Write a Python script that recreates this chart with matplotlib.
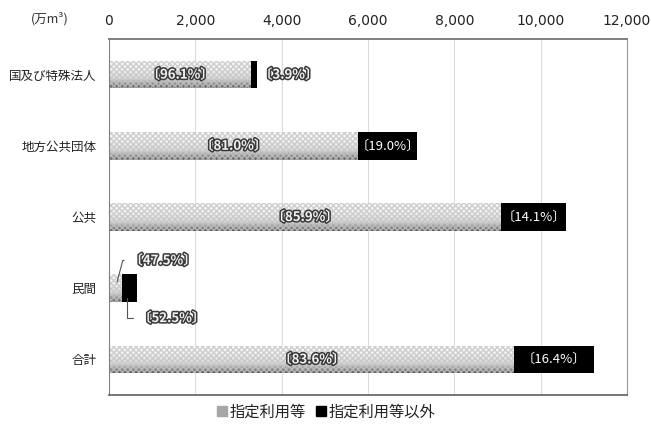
import numpy as np
import matplotlib
matplotlib.use("Agg")
import matplotlib.pyplot as plt
from matplotlib.lines import Line2D
import matplotlib.patheffects as pe

plt.rcParams['font.family'] = ['Noto Sans CJK JP', 'DejaVu Sans']

categories = ["国及び特殊法人", "地方公共団体", "公共", "民間", "合計"]
designated = [3296, 5780, 9090, 309, 9392]          # 指定利用等
other = [134, 1355, 1496, 341, 1843]                # 指定利用等以外
pct_designated = ["96.1%", "81.0%", "85.9%", "47.5%", "83.6%"]
pct_other = ["3.9%", "19.0%", "14.1%", "52.5%", "16.4%"]
xticks = [0, 2000, 4000, 6000, 8000, 10000, 12000]
legend_labels = ["指定利用等", "指定利用等以外"]
unit_label = "(万m³)"

fig = plt.figure(figsize=(6.51, 4.28), dpi=100)
ax = fig.add_axes([0.1674, 0.0771, 0.7957, 0.8318])

y = np.arange(len(categories))
h = 0.39

# gradient image for the hatched bars
grad = np.linspace(0, 1, 64).reshape(-1, 1)
gcmap = matplotlib.colors.LinearSegmentedColormap.from_list(
    "g", ["#fafafa", "#f2f2f2", "#d8d8d8", "#5e5e5e"])

gray_bars = ax.barh(y, designated, height=h, color="#e8e8e8", edgecolor="none", zorder=2)
for b in gray_bars:
    x0, y0, w, hh = b.get_x(), b.get_y(), b.get_width(), b.get_height()
    im = ax.imshow(grad, extent=(x0, x0 + w, y0 + hh, y0), aspect="auto", cmap=gcmap,
                   zorder=2.1, interpolation="bilinear")
    im.set_clip_path(b)
ax.barh(y, designated, height=h, facecolor="none", edgecolor="#c4c4c4", hatch="xxxxxx",
        linewidth=0, zorder=2.2, alpha=0.8)
black_bars = ax.barh(y, other, left=designated, height=h, color="#000000", edgecolor="none", zorder=3)

ax.set_xlim(0, 12000)
ax.set_ylim(len(categories) - 0.5, -0.5)
ax.set_xticks(xticks)
ax.set_xticklabels([f"{v:,}" for v in xticks], fontsize=10, color="#222222",
                   family=["DejaVu Sans"])
ax.xaxis.tick_top()
ax.tick_params(axis="x", length=0, pad=8)
ax.set_yticks(y)
ax.set_yticklabels(categories, fontsize=9, color="#222222")
ax.tick_params(axis="y", length=0, pad=9)
ax.grid(axis="x", color="#dcdcdc", linewidth=0.8, zorder=0)
ax.set_axisbelow(True)

ax.spines["right"].set_color("#9a9a9a")
ax.spines["top"].set_color("#808080")
ax.spines["top"].set_linewidth(1.4)
ax.spines["left"].set_color("#808080")
ax.spines["bottom"].set_color("#606060")
ax.spines["bottom"].set_linewidth(1.2)

outline = [pe.withStroke(linewidth=2.2, foreground="#3a3a3a")]
outline_txt = dict(color="#f0f0f0", fontsize=9.5, path_effects=outline, fontweight="bold")

for i in range(len(categories)):
    if i == 3:
        continue
    ax.text(designated[i] / 2, y[i], f"〔{pct_designated[i]}〕", ha="center", va="center",
            zorder=5, **outline_txt)
    if i == 0:
        ax.text(designated[i] + other[i] + 50, y[i], f"〔{pct_other[i]}〕", ha="left", va="center",
                zorder=5, **outline_txt)
    else:
        ax.text(designated[i] + other[i] / 2, y[i], f"〔{pct_other[i]}〕", ha="center", va="center",
                color="white", fontsize=9.5, zorder=5)

# 民間 labels with leader lines
i = 3
ax.annotate(f"〔{pct_designated[i]}〕", xy=(designated[i] * 0.55, y[i] - 0.05),
            xytext=(480, y[i] - 0.39), ha="left", va="center", zorder=5,
            arrowprops=dict(arrowstyle="-", color="#555555", lw=0.8, relpos=(0, 0.5),
                            connectionstyle="angle,angleA=180,angleB=75,rad=0"),
            **outline_txt)
ax.annotate(f"〔{pct_other[i]}〕", xy=(designated[i] + other[i] * 0.35, y[i] + 0.1),
            xytext=(680, y[i] + 0.42), ha="left", va="center", zorder=5,
            arrowprops=dict(arrowstyle="-", color="#555555", lw=0.8, relpos=(0, 0.5),
                            connectionstyle="angle,angleA=180,angleB=90,rad=0"),
            **outline_txt)

fig.text(0.077, 0.955, unit_label, ha="center", va="center", fontsize=9, color="#333333")

handles = [Line2D([], [], marker="s", linestyle="none", markersize=7, color="#a6a6a6"),
           Line2D([], [], marker="s", linestyle="none", markersize=7, color="#000000")]
fig.legend(handles, legend_labels, loc="center", bbox_to_anchor=(0.5, 0.038), ncol=2,
           frameon=False, fontsize=11, handletextpad=0.1, columnspacing=0.6,
           handlelength=0.8, labelcolor="#222222")

fig.savefig("out.png", dpi=100)
